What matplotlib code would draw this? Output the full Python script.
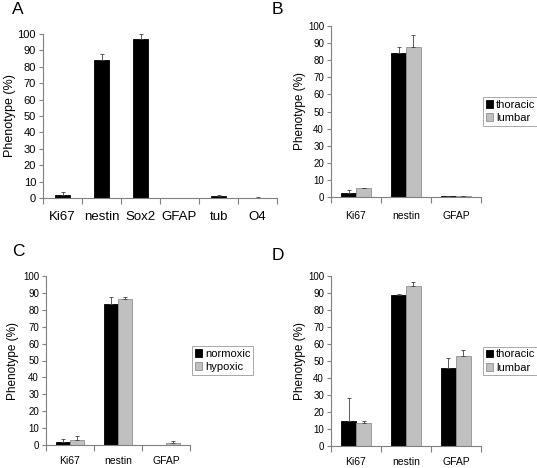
import matplotlib
matplotlib.use('Agg')
import matplotlib.pyplot as plt
import numpy as np

plt.rcParams['font.family'] = ['Liberation Sans', 'DejaVu Sans']

# Panel A
a_labels = ['Ki67', 'nestin', 'Sox2', 'GFAP', 'tub', 'O4']
a_vals = [2.0, 84.0, 97.0, 0.3, 1.5, 0.3]
a_err = [1.8, 4.0, 3.0, 0.0, 0.5, 0.3]

# Panel B
b_labels = ['Ki67', 'nestin', 'GFAP']
b_thoracic = [2.5, 84.0, 0.5]
b_thoracic_err = [1.8, 4.0, 0.2]
b_lumbar = [5.0, 88.0, 0.5]
b_lumbar_err = [0.5, 7.0, 0.2]

# Panel C
c_labels = ['Ki67', 'nestin', 'GFAP']
c_normoxic = [2.0, 83.5, 0.2]
c_normoxic_err = [1.5, 4.0, 0.0]
c_hypoxic = [3.0, 86.5, 1.3]
c_hypoxic_err = [2.5, 0.8, 1.0]

# Panel D
d_labels = ['Ki67', 'nestin', 'GFAP']
d_thoracic = [15.0, 89.0, 46.0]
d_thoracic_err = [13.0, 0.7, 5.5]
d_lumbar = [13.5, 94.0, 53.0]
d_lumbar_err = [1.3, 2.5, 3.5]

W, H = 537, 468
fig = plt.figure(figsize=(W / 100, H / 100), dpi=100)


def make_ax(left, top, right, bottom):
    return fig.add_axes([left / W, 1 - bottom / H, (right - left) / W, (bottom - top) / H])


def style_axes(ax, labels, ytick_size, xtick_size, ylab_size, xpad, ylab_x):
    n = len(labels)
    ax.set_xlim(0, n)
    ax.set_ylim(0, 100)
    ax.set_yticks(range(0, 101, 10))
    ax.tick_params(axis='y', labelsize=ytick_size, length=3, width=0.8, color='#808080', pad=2)
    ax.set_xticks(np.arange(n) + 0.5)
    ax.set_xticklabels(labels, fontsize=xtick_size)
    ax.tick_params(axis='x', which='major', length=0, pad=xpad)
    ax.set_xticks(np.arange(n + 1), minor=True)
    ax.tick_params(axis='x', which='minor', length=4, width=0.8, color='#808080')
    for s in ['top', 'right']:
        ax.spines[s].set_visible(False)
    for s in ['left', 'bottom']:
        ax.spines[s].set_color('#808080')
        ax.spines[s].set_linewidth(0.8)
    ax.set_ylabel('Phenotype (%)', fontsize=ylab_size)
    ax.yaxis.set_label_coords(ylab_x, 0.5)


def grouped(ax, labels, v1, e1, v2, e2, names):
    x = np.arange(len(labels)) + 0.5
    w = 0.3
    ax.bar(x - w / 2, v1, w, color='black', edgecolor='black', linewidth=0.6, label=names[0])
    ax.bar(x + w / 2, v2, w, color='#c0c0c0', edgecolor='#909090', linewidth=0.6, label=names[1])
    ax.errorbar(x - w / 2, v1, yerr=[np.zeros(len(v1)), e1], fmt='none', ecolor='#404040',
                elinewidth=0.6, capsize=1.5, capthick=0.6)
    ax.errorbar(x + w / 2, v2, yerr=[np.zeros(len(v2)), e2], fmt='none', ecolor='#404040',
                elinewidth=0.6, capsize=1.5, capthick=0.6)
    leg = ax.legend(loc='center left', bbox_to_anchor=(1.012, 0.5), fontsize=8, frameon=True,
                    fancybox=False, edgecolor='#808080', handlelength=0.7, handleheight=0.7,
                    handletextpad=0.25, borderpad=0.25, labelspacing=0.3, borderaxespad=0)
    leg.get_frame().set_linewidth(0.6)


# A
axA = make_ax(43, 34, 277, 198)
xa = np.arange(len(a_labels)) + 0.5
axA.bar(xa, a_vals, 0.41, color='black', edgecolor='black', linewidth=0.6)
axA.errorbar(xa, a_vals, yerr=[np.zeros(len(a_vals)), a_err], fmt='none', ecolor='#404040',
             elinewidth=0.6, capsize=1.5, capthick=0.6)
style_axes(axA, a_labels, 8, 9.5, 9, 9, -0.115)

# B
axB = make_ax(331, 26, 481, 197)
grouped(axB, b_labels, b_thoracic, b_thoracic_err, b_lumbar, b_lumbar_err, ['thoracic', 'lumbar'])
style_axes(axB, b_labels, 7, 7.5, 8.5, 10, -0.17)

# C
axC = make_ax(46, 276, 190, 445)
grouped(axC, c_labels, c_normoxic, c_normoxic_err, c_hypoxic, c_hypoxic_err, ['normoxic', 'hypoxic'])
style_axes(axC, c_labels, 7, 7.5, 8.5, 8, -0.19)

# D
axD = make_ax(331, 276, 481, 446)
grouped(axD, d_labels, d_thoracic, d_thoracic_err, d_lumbar, d_lumbar_err, ['thoracic', 'lumbar'])
style_axes(axD, d_labels, 7, 7.5, 8.5, 8, -0.17)

for txt, x, y in [('A', 12, 10), ('B', 272, 10), ('C', 12, 251), ('D', 272, 255)]:
    fig.text(x / W, 1 - y / H, txt, fontsize=12.5, ha='left', va='center')

fig.savefig('out.png', dpi=100)
